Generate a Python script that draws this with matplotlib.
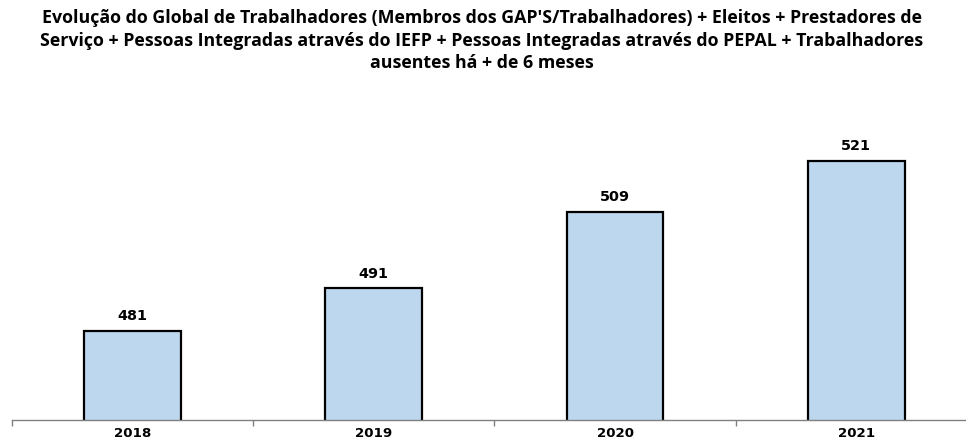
import matplotlib
matplotlib.use("Agg")
import matplotlib.pyplot as plt
import numpy as np

categories = ["2018", "2019", "2020", "2021"]
values = [481, 491, 509, 521]
title_lines = [
    "Evolução do Global de Trabalhadores (Membros dos GAP'S/Trabalhadores) + Eleitos + Prestadores de",
    "Serviço + Pessoas Integradas através do IEFP + Pessoas Integradas através do PEPAL + Trabalhadores",
    "ausentes há + de 6 meses",
]

W, H = 966, 439
fig = plt.figure(figsize=(W / 100, H / 100), dpi=100)
fig.patch.set_facecolor("white")

left = 11.8 / W
right = 977 / W
bottom = (H - 421) / H
top = (H - 123.5) / H
ax = fig.add_axes([left, bottom, right - left, top - bottom])

x = np.arange(len(categories))
ax.bar(x, values, width=0.40, color="#BDD7EE", edgecolor="black", linewidth=1.6, zorder=2)
ax.set_xlim(-0.5, len(categories) - 0.5)
ax.set_ylim(460, 530)

for xi, v in zip(x, values):
    ax.annotate(str(v), (xi, v), xytext=(0, 6), textcoords="offset points",
                ha="center", va="bottom", fontsize=10.4, fontweight="bold",
                family="DejaVu Sans")

for s in ["top", "right", "left"]:
    ax.spines[s].set_visible(False)
ax.spines["bottom"].set_color("#808080")
ax.spines["bottom"].set_linewidth(1.0)
ax.set_yticks([])
ax.set_xticks(x)
ax.set_xticklabels(categories, fontsize=9.6, fontweight="bold", family="DejaVu Sans")
ax.tick_params(axis="x", which="major", length=0, pad=4)
ax.set_xticks(np.arange(-0.5, len(categories), 1.0), minor=True)
ax.tick_params(axis="x", which="minor", length=4, color="#808080", width=1)

ys = [18, 41, 63]
for line, yp in zip(title_lines, ys):
    fig.text(482 / W, 1 - yp / H, line, ha="center", va="center",
             fontsize=12.8, fontweight="bold", family="Open Sans")

fig.savefig("out.png", dpi=100, facecolor="white")
